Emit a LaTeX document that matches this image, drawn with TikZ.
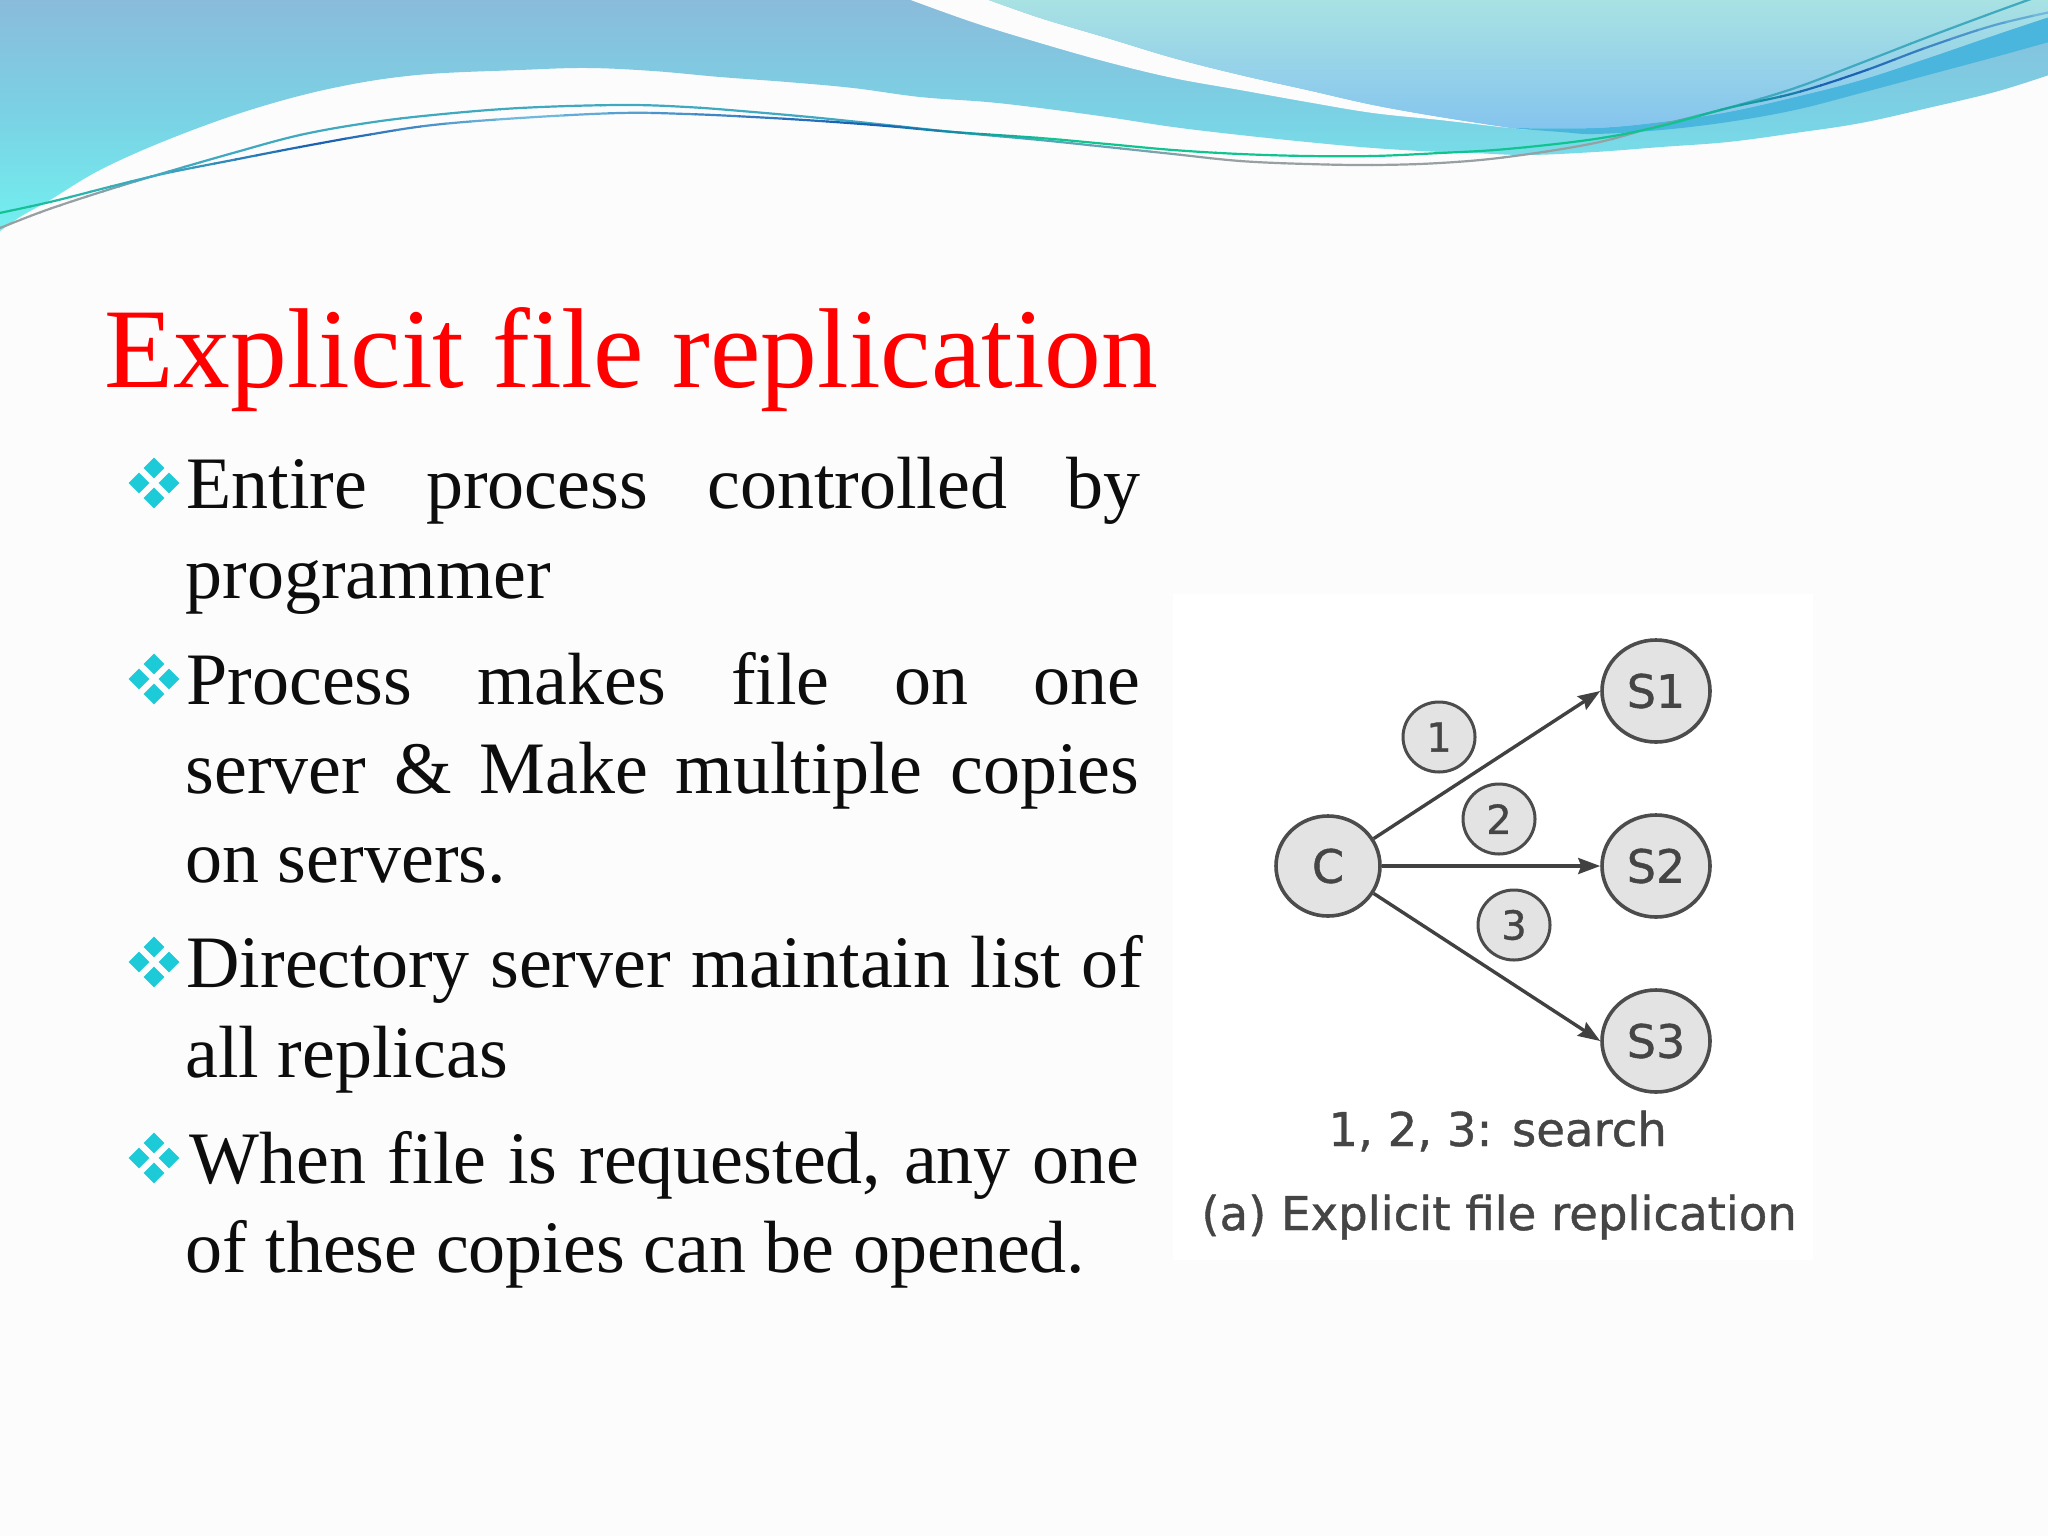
\documentclass[tikz,border=0pt]{standalone}
\usepackage{fontspec}
\setmainfont{Liberation Serif}
\newfontfamily\dvs[FakeBold=0.9]{DejaVu Sans}
\usetikzlibrary{shapes.geometric,arrows.meta}
\definecolor{pagebg}{HTML}{FCFCFD}
\definecolor{bulletc}{HTML}{1CCAD8}
\definecolor{nodefill}{HTML}{E3E3E3}
\definecolor{nodeline}{HTML}{4C4C4C}
\definecolor{nodetext}{HTML}{454545}
\definecolor{lgreen}{HTML}{10C490}
\definecolor{lteal}{HTML}{3FA9C0}
\definecolor{lblue}{HTML}{1B62B4}
\definecolor{lsky}{HTML}{70B8DC}
\definecolor{lgray}{HTML}{98A0A2}
\definecolor{sweepT}{HTML}{8ABBDB}
\definecolor{sweepM}{HTML}{7AD2E4}
\definecolor{sweepB}{HTML}{72F0F0}
\definecolor{bandc}{HTML}{4AB6DE}
\definecolor{lightT}{HTML}{A9E2E3}
\definecolor{lightB}{HTML}{85C4EE}
\tikzset{
  srv/.style={ellipse,draw=nodeline,fill=nodefill,line width=1.8pt,minimum width=54pt,minimum height=51pt,inner sep=0pt,text=nodetext,font=\dvs\fontsize{23}{24}\selectfont},
  cli/.style={srv,minimum width=52pt,minimum height=50pt},
  step badge/.style={srv,minimum width=36pt,minimum height=35pt,line width=1.5pt,font=\dvs\fontsize{20}{22}\selectfont},
  conn/.style={draw=nodeline!85!black,line width=1.7pt,-{Stealth[length=11pt,width=8pt,inset=1.5pt]}},
  titletext/.style={anchor=base west,inner sep=0pt,text=red,font=\fontsize{56.8}{60}\selectfont},
  bodytext/.style={anchor=base west,inner sep=0pt,text=black!95,font=\fontsize{37}{40}\selectfont},
  captext/.style={anchor=base west,inner sep=0pt,text=nodetext,font=\dvs\fontsize{23.3}{26}\selectfont},
  bdiam/.style={diamond,fill=bulletc,inner sep=0pt,minimum width=10.5pt,minimum height=10.5pt}
}
\newcommand{\jline}[1]{\makebox[477pt][s]{#1}}
\newcommand{\bul}[2]{%
  \node[bdiam] (#1a) at (154,#2-40) {};
  \node[bdiam] (#1b) at (169,#2-25) {};
  \node[bdiam] (#1c) at (154,#2-10) {};
  \node[bdiam] (#1d) at (139,#2-25) {};}
\newcommand{\lineA}{plot[smooth,tension=0.6] coordinates {(-10,215) (50,202) (117,185) (167,173) (233,160) (300,147) (367,135) (433,125) (520,118) (620,113) (687,114) (753,117) (820,121) (887,126) (953,132) (1040,138) (1107,144) (1173,150) (1240,154) (1307,156) (1373,156) (1440,153) (1507,149) (1595,139) (1661,126) (1728,108) (1795,93) (1861,72) (1928,47) (1995,25) (2060,10)}}
\newcommand{\lineB}{plot[smooth,tension=0.6] coordinates {(-10,232) (33,215) (67,203) (117,187) (167,172) (233,153) (300,135) (367,123) (433,115) (520,108) (620,105) (687,107) (753,112) (820,118) (887,125) (953,132) (1040,140) (1107,147) (1173,154) (1240,161) (1307,164) (1373,165) (1440,163) (1507,157) (1595,143) (1661,125) (1728,108) (1795,88) (1861,63) (1928,37) (1995,12) (2045,-6)}}
\newcommand{\gradstroke}[2]{%
  \foreach \xa/\xb/\ca/\cb in {#2}{%
    \foreach \i in {0,...,7}{%
      \pgfmathsetmacro{\xl}{\xa+(\xb-\xa)*\i/8}
      \pgfmathsetmacro{\xr}{\xa+(\xb-\xa)*(\i+1)/8+1}
      \pgfmathtruncatemacro{\pct}{100-\i*100/7}
      \colorlet{segc}{\ca!\pct!\cb}
      \begin{scope}
        \clip (\xl,-20) rectangle (\xr,300);
        \draw[segc,line width=1.1pt] #1;
      \end{scope}
    }
  }}
\begin{document}
\begin{tikzpicture}[x=0.5pt,y=-0.5pt]
\useasboundingbox (0,0) rectangle (2048,1536);
\fill[pagebg] (0,0) rectangle (2048,1536);
\begin{scope}
\clip (0,0) rectangle (2048,1536);
% main blue sweep
\shade[top color=sweepT,bottom color=sweepB,middle color=sweepM] (-1,-1) -- (2049,-1) -- plot[smooth,tension=0.6] coordinates {(2049,75) (1995,92) (1928,108) (1861,123) (1795,133) (1728,142) (1661,147) (1595,152) (1528,155) (1473,153) (1440,152) (1373,148) (1307,142) (1240,135) (1173,127) (1107,117) (1040,108) (987,102) (920,97) (853,88) (787,82) (720,77) (653,71) (587,68) (520,70) (417,75) (333,88) (250,110) (167,140) (100,170) (50,200) (20,217) (-1,232)} -- cycle;
% white ribbon
\fill[pagebg] plot[smooth,tension=0.6] coordinates {(908,-1) (975,23) (1040,43) (1107,62) (1173,78) (1240,90) (1307,102) (1373,113) (1440,120) (1500,127)} -- (1530,130) -- plot[smooth,tension=0.6] coordinates {(1530,130) (1507,127) (1440,117) (1373,105) (1307,90) (1240,75) (1173,58) (1107,38) (1040,18) (986,-1)} -- cycle;
% dark band
\fill[bandc] plot[smooth,tension=0.6] coordinates {(1510,128) (1561,132) (1595,134) (1661,130) (1728,122) (1795,110) (1861,93) (1928,75) (1995,57) (2049,42)} -- (2049,17) -- plot[smooth,tension=0.6] coordinates {(2049,17) (1995,35) (1928,58) (1861,80) (1795,97) (1728,112) (1661,122) (1595,128) (1510,128)} -- cycle;
% light region
\shade[top color=lightT,bottom color=lightB] plot[smooth,tension=0.6] coordinates {(986,-1) (1040,18) (1107,38) (1173,58) (1240,75) (1307,90) (1373,105) (1440,117) (1510,128)} -- plot[smooth,tension=0.6] coordinates {(1510,128) (1595,128) (1661,122) (1728,112) (1795,97) (1861,80) (1928,58) (1995,35) (2049,17)} -- (2049,-1) -- cycle;
\gradstroke{\lineB}{-10/70/lgray/lgray,70/200/lgray/lteal,200/1000/lteal/lteal,1000/1240/lteal/lgray,1240/1590/lgray/lgray,1590/1760/lgray/lteal,1760/2060/lteal/lteal}
\gradstroke{\lineA}{-10/150/lgreen/lteal,150/320/lteal/lblue,320/520/lblue/lsky,520/870/lsky/lblue,870/1060/lblue/lgreen,1060/1680/lgreen/lgreen,1680/1840/lgreen/lblue,1840/2060/lblue/lsky}
\end{scope}
% picture panel
\fill[white] (1173,594) rectangle (1813,1260);
% title
\node[titletext] (ttl) at (104,387) {Explicit file replication};
% text
\bul{p}{508}
\node[bodytext] (t1) at (186,508) {\jline{Entire process controlled by}};
\node[bodytext] (t2) at (185,598) {programmer};
\bul{q}{704}
\node[bodytext] (t3) at (186,704) {\jline{Process makes file on one}};
\node[bodytext] (t4) at (185,793) {\jline{server \& Make multiple copies}};
\node[bodytext] (t5) at (185,882) {on servers.};
\bul{r}{987}
\node[bodytext] (t6) at (186,987) {\makebox[478.5pt][s]{Directory server maintain list of}};
\node[bodytext] (t7) at (185,1077) {all replicas};
\bul{s}{1183}
\node[bodytext] (t8) at (189,1183) {\makebox[475pt][s]{When file is requested, any one}};
\node[bodytext] (t9) at (185,1272) {of these copies can be opened.};
% diagram
\node[cli] (C) at (1328,866) {C};
\node[srv] (S1) at (1656,691) {S1};
\node[srv] (S2) at (1656,866) {S2};
\node[srv] (S3) at (1656,1041) {S3};
\node[step badge] (n1) at (1439,737) {1};
\node[step badge] (n2) at (1499,819) {2};
\node[step badge] (n3) at (1514,925) {3};
\draw[conn] (C.31) -- (S1.west);
\draw[conn] (C.east) -- (S2.west);
\draw[conn] (C.-31) -- (S3.west);
\node[captext] (c1) at (1328,1146) {1, 2, 3: search};
\node[captext] (c2) at (1201,1230) {(a) Explicit file replication};
\end{tikzpicture}
\end{document}
